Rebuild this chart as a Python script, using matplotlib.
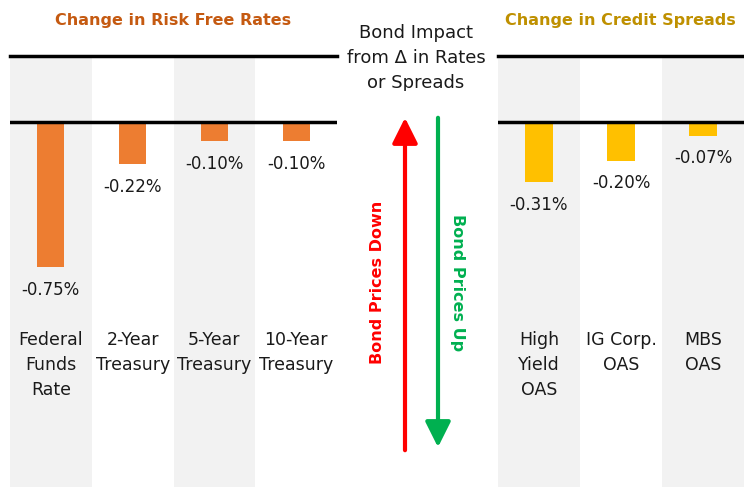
import matplotlib.pyplot as plt
from matplotlib.patches import FancyArrowPatch
from matplotlib.transforms import Bbox, TransformedBbox

# data (% change)
rate_labels = ["Federal\nFunds\nRate", "2-Year\nTreasury", "5-Year\nTreasury", "10-Year\nTreasury"]
rate_values = [-0.75, -0.22, -0.10, -0.10]
spread_labels = ["High\nYield\nOAS", "IG Corp.\nOAS", "MBS\nOAS"]
spread_values = [-0.31, -0.20, -0.07]

W, H = 744, 487
DPI = 100
plt.rcParams["font.family"] = ["DejaVu Sans"]

fig = plt.figure(figsize=(W / DPI, H / DPI), dpi=DPI)


def px_axes(x0, x1, y0, y1):
    # pixel box (top-left origin) -> figure fraction axes
    return fig.add_axes([x0 / W, 1 - y1 / H, (x1 - x0) / W, (y1 - y0) / H])


PX_PER_PCT = 193.0
TOP, ZERO = 56, 122


def draw_panel(ax, labels, values, color):
    n = len(values)
    ax.set_xlim(-0.5, n - 0.5)
    ymax = (ZERO - TOP) / PX_PER_PCT
    ymin = -(H - ZERO) / PX_PER_PCT
    ax.set_ylim(ymin, ymax)
    for i in range(n):
        if i % 2 == 0:
            ax.axvspan(i - 0.5, i + 0.5, color="#F2F2F2", lw=0, zorder=0)
    ax.bar(range(n), values, width=0.33, color=color, zorder=2)
    ax.axhline(0, color="black", lw=2.5, zorder=3)
    ax.axhline(ymax, color="black", lw=2.5, zorder=3, clip_on=False)
    for i, v in enumerate(values):
        ax.annotate(f"{v:.2f}%", (i, v), xytext=(0, -10), textcoords="offset points",
                    ha="center", va="top", fontsize=12, color="#1a1a1a")
    lab_y = -(331 - ZERO) / PX_PER_PCT
    for i, lab in enumerate(labels):
        ax.text(i, lab_y, lab, ha="center", va="top", fontsize=12.5,
                linespacing=1.5, color="#1a1a1a")
    ax.axis("off")


ax1 = px_axes(10, 337, TOP, H)
draw_panel(ax1, rate_labels, rate_values, "#ED7D31")
ax2 = px_axes(498, 744, TOP, H)
draw_panel(ax2, spread_labels, spread_values, "#FFC000")

fig.text(173 / W, 1 - 20 / H, "Change in Risk Free Rates", ha="center", va="center",
         fontsize=11.5, fontweight="bold", color="#C55A11")
fig.text(620 / W, 1 - 20 / H, "Change in Credit Spreads", ha="center", va="center",
         fontsize=11.5, fontweight="bold", color="#BF9000")
mid = fig.text(416 / W, 1 - 58 / H, "Bond Impact\nfrom \u0394 in Rates\nor Spreads", ha="center",
               va="center", fontsize=13, linespacing=1.52, color="#1a1a1a")
# the text box is cut off at the bottom in the original
mid.set_clip_box(TransformedBbox(Bbox([[0, 1 - 91 / H], [1, 1]]), fig.transFigure))


def fig_pt(x, y):
    return (x / W, 1 - y / H)


up = FancyArrowPatch(fig_pt(405, 453), fig_pt(405, 115), transform=fig.transFigure,
                     arrowstyle="-|>,head_length=1.1,head_width=0.55", mutation_scale=14,
                     color="#FF0000", lw=3)
down = FancyArrowPatch(fig_pt(438, 115), fig_pt(438, 450), transform=fig.transFigure,
                       arrowstyle="-|>,head_length=1.1,head_width=0.55", mutation_scale=14,
                       color="#00B050", lw=3)
fig.patches.extend([up, down])

fig.text(378 / W, 1 - 282 / H, "Bond Prices Down", rotation=90, ha="center", va="center",
         fontsize=11.5, fontweight="bold", color="#FF0000")
fig.text(458 / W, 1 - 283 / H, "Bond Prices Up", rotation=-90, ha="center", va="center",
         fontsize=11.5, fontweight="bold", color="#00B050")

fig.savefig("out.png", dpi=DPI)
